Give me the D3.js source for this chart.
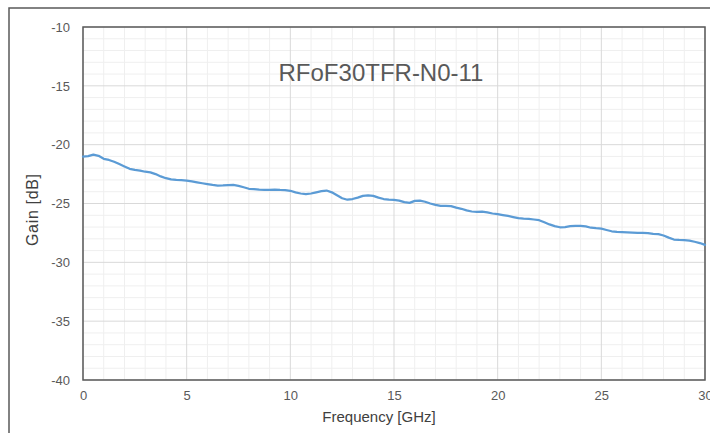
<!DOCTYPE html>
<html><head><meta charset="utf-8">
<script src="https://cdn.jsdelivr.net/npm/d3@7"></script>
<style>body{margin:0;background:#fff;}svg{display:block;font-family:"Liberation Sans","DejaVu Sans",sans-serif;}</style>
</head><body>
<svg id="c" width="710" height="433"></svg>
<script>
const titleText = "RFoF30TFR-N0-11";
const xLabel = "Frequency [GHz]";
const yLabel = "Gain [dB]";
const xTicks = [0, 5, 10, 15, 20, 25, 30];
const yTicks = [-10, -15, -20, -25, -30, -35, -40];
const freq = [0,0.25,0.5,0.75,1,1.25,1.5,1.75,2,2.25,2.5,2.75,3,3.25,3.5,3.75,4,4.25,4.5,4.75,
  5,5.25,5.5,5.75,6,6.25,6.5,6.75,7,7.25,7.5,7.75,8,8.25,8.5,8.75,9,9.25,9.5,9.75,
  10,10.25,10.5,10.75,11,11.25,11.5,11.75,12,12.25,12.5,12.75,13,13.25,13.5,13.75,14,14.25,14.5,14.75,
  15,15.25,15.5,15.75,16,16.25,16.5,16.75,17,17.25,17.5,17.75,18,18.25,18.5,18.75,19,19.25,19.5,19.75,
  20,20.25,20.5,20.75,21,21.25,21.5,21.75,22,22.25,22.5,22.75,23,23.25,23.5,23.75,24,24.25,24.5,24.75,
  25,25.25,25.5,25.75,26,26.25,26.5,26.75,27,27.25,27.5,27.75,28,28.25,28.5,28.75,29,29.25,29.5,29.75,30];
const gain = [-21.02,-20.98,-20.85,-20.95,-21.2,-21.3,-21.45,-21.65,-21.85,-22.05,-22.15,-22.2,-22.3,-22.35,-22.5,-22.7,-22.85,-22.95,-23.0,-23.02,
  -23.05,-23.12,-23.2,-23.28,-23.35,-23.42,-23.48,-23.46,-23.43,-23.42,-23.5,-23.62,-23.75,-23.78,-23.82,-23.84,-23.85,-23.83,-23.85,-23.86,
  -23.92,-24.05,-24.15,-24.2,-24.15,-24.05,-23.95,-23.9,-24.05,-24.3,-24.55,-24.68,-24.62,-24.5,-24.35,-24.3,-24.35,-24.5,-24.62,-24.68,
  -24.7,-24.75,-24.88,-24.95,-24.78,-24.76,-24.85,-25.0,-25.12,-25.2,-25.2,-25.22,-25.35,-25.45,-25.58,-25.68,-25.72,-25.7,-25.76,-25.85,
  -25.9,-25.98,-26.06,-26.15,-26.25,-26.28,-26.3,-26.36,-26.42,-26.6,-26.78,-26.92,-27.02,-27.0,-26.92,-26.9,-26.9,-26.95,-27.06,-27.1,
  -27.13,-27.25,-27.36,-27.42,-27.43,-27.45,-27.47,-27.5,-27.5,-27.52,-27.58,-27.6,-27.72,-27.9,-28.06,-28.1,-28.12,-28.15,-28.25,-28.36,-28.52];

const svg = d3.select("#c");
const L = 83, R = 705, T = 27, B = 380;
const x = d3.scaleLinear().domain([0, 30]).range([L, R]);
const y = d3.scaleLinear().domain([-40, -10]).range([B, T]);

// outer frame
svg.append("rect").attr("x", 9).attr("y", 8).attr("width", 720).attr("height", 440)
  .attr("fill", "none").attr("stroke", "#595959").attr("stroke-width", 1.5);

// minor grid
const g = svg.append("g");
g.selectAll(".vx").data(d3.range(1, 30).filter(v => v % 5 !== 0)).join("line")
  .attr("x1", d => x(d)).attr("x2", d => x(d)).attr("y1", T).attr("y2", B)
  .attr("stroke", "#efefef").attr("stroke-width", 1);
g.selectAll(".hy").data(d3.range(-39, -10).filter(v => v % 5 !== 0)).join("line")
  .attr("y1", d => y(d)).attr("y2", d => y(d)).attr("x1", L).attr("x2", R)
  .attr("stroke", "#efefef").attr("stroke-width", 1);
// major grid
g.selectAll(".mx").data(xTicks).join("line")
  .attr("x1", d => x(d)).attr("x2", d => x(d)).attr("y1", T).attr("y2", B)
  .attr("stroke", "#d9d9d9").attr("stroke-width", 1);
g.selectAll(".my").data(yTicks).join("line")
  .attr("y1", d => y(d)).attr("y2", d => y(d)).attr("x1", L).attr("x2", R)
  .attr("stroke", "#d9d9d9").attr("stroke-width", 1);

// plot frame
svg.append("rect").attr("x", L).attr("y", T).attr("width", R - L).attr("height", B - T)
  .attr("fill", "none").attr("stroke", "#595959").attr("stroke-width", 1.5);

// axes labels via d3 axes
const xa = svg.append("g").attr("transform", `translate(0,${B})`)
  .call(d3.axisBottom(x).tickValues(xTicks).tickSize(0).tickPadding(11));
const ya = svg.append("g").attr("transform", `translate(${L},0)`)
  .call(d3.axisLeft(y).tickValues(yTicks).tickSize(0).tickPadding(13).tickFormat(d => d));
[xa, ya].forEach(a => {
  a.select(".domain").remove();
  a.selectAll("text").attr("fill", "#595959").attr("font-size", 13)
    .attr("font-family", "'Liberation Sans', sans-serif");
});

// title
svg.append("text").attr("x", 381).attr("y", 81).attr("text-anchor", "middle")
  .attr("font-size", 24).attr("fill", "#595959").text(titleText);

// axis titles
svg.append("text").attr("x", 379).attr("y", 422).attr("text-anchor", "middle")
  .attr("font-size", 15).attr("fill", "#404040").text(xLabel);
svg.append("text").attr("transform", "translate(38,210) rotate(-90)").attr("text-anchor", "middle")
  .attr("font-size", 16).attr("fill", "#404040")
  .attr("textLength", 72).attr("lengthAdjust", "spacing").text(yLabel);

// series
const data = freq.map((f, i) => [f, gain[i]]);
svg.append("path").datum(data)
  .attr("d", d3.line().x(d => x(d[0])).y(d => y(d[1])))
  .attr("fill", "none").attr("stroke", "#5B9BD5").attr("stroke-width", 2.25)
  .attr("stroke-linejoin", "round").attr("stroke-linecap", "round");
</script>
</body></html>
